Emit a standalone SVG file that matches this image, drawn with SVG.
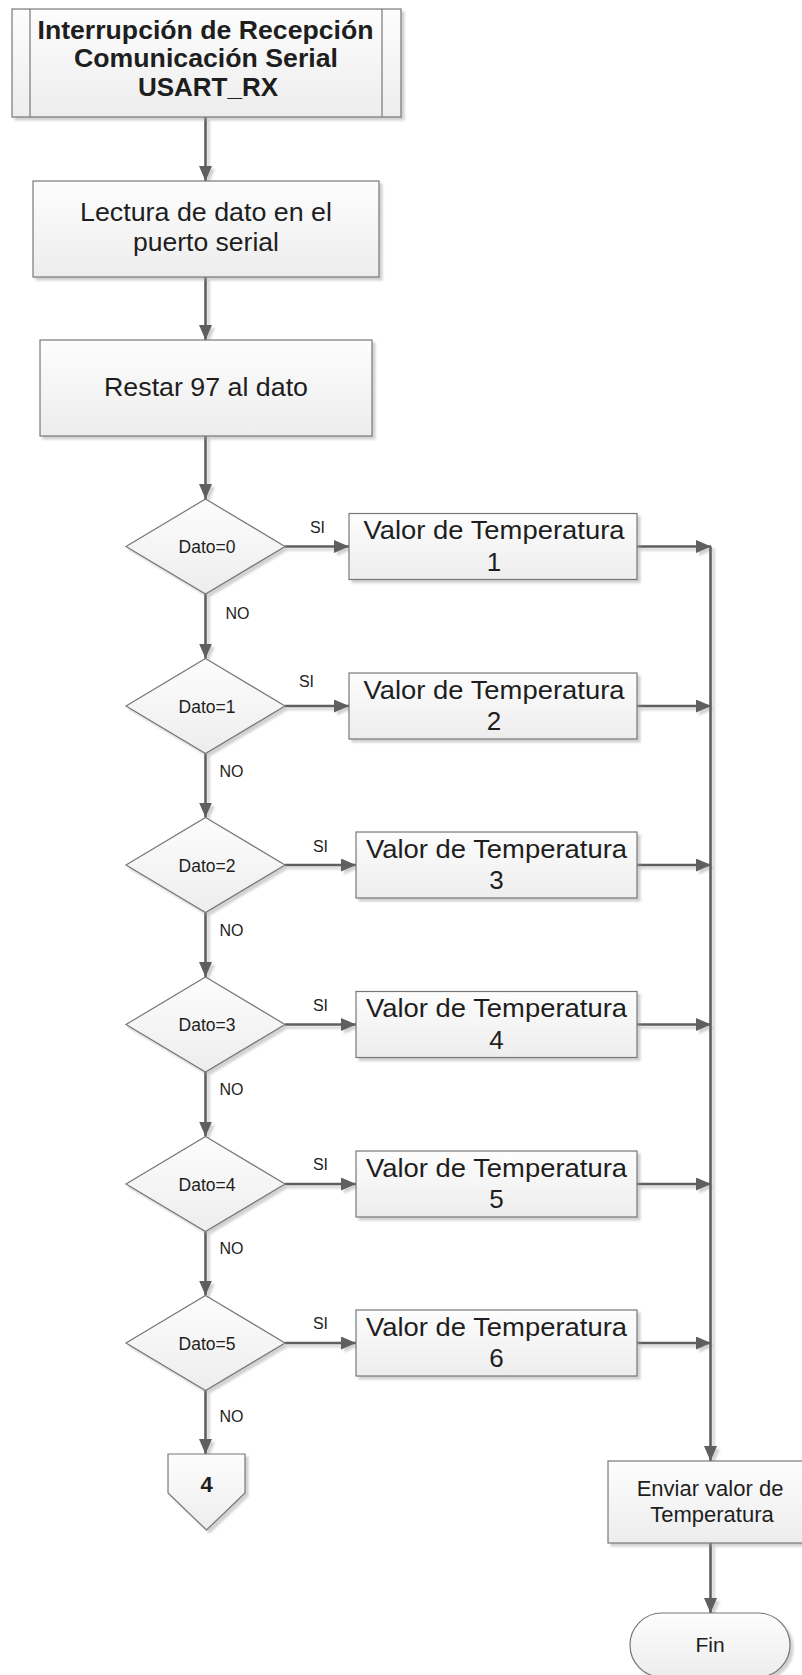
<svg xmlns="http://www.w3.org/2000/svg" width="802" height="1675" viewBox="0 0 802 1675">
  <defs>
    <linearGradient id="boxFill" x1="0" y1="0" x2="0" y2="1">
      <stop offset="0" stop-color="#fdfdfd"/>
      <stop offset="1" stop-color="#ededed"/>
    </linearGradient>
    <filter id="shadow" x="-10%" y="-10%" width="130%" height="130%">
      <feGaussianBlur in="SourceAlpha" stdDeviation="1.2" result="b"/>
      <feOffset in="b" dx="3" dy="3" result="o"/>
      <feFlood flood-color="#9a9a9a" flood-opacity="0.45"/>
      <feComposite in2="o" operator="in" result="s"/>
      <feMerge>
        <feMergeNode in="s"/>
        <feMergeNode in="SourceGraphic"/>
      </feMerge>
    </filter>
    <marker id="arrow" markerUnits="userSpaceOnUse" markerWidth="16" markerHeight="14" refX="15" refY="6.5" orient="auto">
      <path d="M0,0 L15,6.5 L0,13 z" fill="#5e5e5e"/>
    </marker>
  </defs>
  <style>
    .shape { fill: url(#boxFill); stroke: #777777; stroke-width: 1.2; filter: url(#shadow); }
    .inner { stroke: #777777; stroke-width: 1.2; fill: none; }
    .conn { stroke: #5e5e5e; stroke-width: 2.6; fill: none; marker-end: url(#arrow); }
    text { font-family: "Liberation Sans", Arial, sans-serif; fill: #1e1e1e; text-anchor: middle; }
    .title { font-size: 26px; font-weight: bold; }
    .big { font-size: 25px; }
    .val { font-size: 26px; }
    .cond { font-size: 17.5px; }
    .lbl { font-size: 16px; }
    .mid { font-size: 22px; }
    .conn-num { font-size: 22px; font-weight: bold; }
  </style>

  <!-- connectors -->
  <g id="connectors" filter="url(#shadow)">
    <path class="conn" d="M205.5,117 V181"/>
    <path class="conn" d="M205.5,277 V340"/>
    <path class="conn" d="M205.5,436 V499"/>
    <!-- NO branches -->
    <path class="conn" d="M205.5,594 V658.5"/>
    <path class="conn" d="M205.5,753.5 V817.5"/>
    <path class="conn" d="M205.5,912.5 V977"/>
    <path class="conn" d="M205.5,1072 V1136.5"/>
    <path class="conn" d="M205.5,1231.5 V1295.5"/>
    <path class="conn" d="M205.5,1390.5 V1454"/>
    <!-- SI branches -->
    <path class="conn" d="M285,546.5 H349"/>
    <path class="conn" d="M285,706 H349"/>
    <path class="conn" d="M285,865 H356"/>
    <path class="conn" d="M285,1024.5 H356"/>
    <path class="conn" d="M285,1184 H356"/>
    <path class="conn" d="M285,1343 H356"/>
    <!-- values into the collector line -->
    <path class="conn" d="M637,546.5 H711"/>
    <path class="conn" d="M637,706 H711"/>
    <path class="conn" d="M637,865 H711"/>
    <path class="conn" d="M637,1024.5 H711"/>
    <path class="conn" d="M637,1184 H711"/>
    <path class="conn" d="M637,1343 H711"/>
    <path class="conn" d="M710.5,546.5 V1461"/>
    <path class="conn" d="M710.5,1543 V1613"/>
  </g>

  <!-- labels on connectors -->
  <g id="branch-labels">
    <text class="lbl" x="317.5" y="533">SI</text>
    <text class="lbl" x="306.5" y="687">SI</text>
    <text class="lbl" x="320.5" y="852">SI</text>
    <text class="lbl" x="320.5" y="1011">SI</text>
    <text class="lbl" x="320.5" y="1170">SI</text>
    <text class="lbl" x="320.5" y="1329">SI</text>
    <text class="lbl" x="237.5" y="619">NO</text>
    <text class="lbl" x="231.5" y="777">NO</text>
    <text class="lbl" x="231.5" y="936">NO</text>
    <text class="lbl" x="231.5" y="1095">NO</text>
    <text class="lbl" x="231.5" y="1254">NO</text>
    <text class="lbl" x="231.5" y="1422">NO</text>
  </g>

  <!-- start: interrupt routine -->
  <g id="start">
    <rect class="shape" x="12" y="9" width="389" height="108"/>
    <line class="inner" x1="30" y1="9" x2="30" y2="117"/>
    <line class="inner" x1="382" y1="9" x2="382" y2="117"/>
    <text class="title" x="205.5" y="39" textLength="336" lengthAdjust="spacingAndGlyphs">Interrupción de Recepción</text>
    <text class="title" x="206" y="67" textLength="264" lengthAdjust="spacingAndGlyphs">Comunicación Serial</text>
    <text class="title" x="208" y="95.5">USART_RX</text>
  </g>

  <g id="read">
    <rect class="shape" x="33" y="181" width="346" height="96"/>
    <text class="big" x="206" y="221" textLength="252" lengthAdjust="spacingAndGlyphs">Lectura de dato en el</text>
    <text class="big" x="206" y="251" textLength="146" lengthAdjust="spacingAndGlyphs">puerto serial</text>
  </g>

  <g id="subtract">
    <rect class="shape" x="40" y="340" width="332" height="96"/>
    <text class="big" x="206" y="396" textLength="204" lengthAdjust="spacingAndGlyphs">Restar 97 al dato</text>
  </g>

  <!-- decisions -->
  <g id="dec0">
    <polygon class="shape" points="205.5,499 285,546.5 205.5,594 126,546.5"/>
    <text class="cond" x="207" y="553">Dato=0</text>
  </g>
  <g id="dec1">
    <polygon class="shape" points="205.5,658.5 285,706 205.5,753.5 126,706"/>
    <text class="cond" x="207" y="712.5">Dato=1</text>
  </g>
  <g id="dec2">
    <polygon class="shape" points="205.5,817.5 285,865 205.5,912.5 126,865"/>
    <text class="cond" x="207" y="871.5">Dato=2</text>
  </g>
  <g id="dec3">
    <polygon class="shape" points="205.5,977 285,1024.5 205.5,1072 126,1024.5"/>
    <text class="cond" x="207" y="1031">Dato=3</text>
  </g>
  <g id="dec4">
    <polygon class="shape" points="205.5,1136.5 285,1184 205.5,1231.5 126,1184"/>
    <text class="cond" x="207" y="1190.5">Dato=4</text>
  </g>
  <g id="dec5">
    <polygon class="shape" points="205.5,1295.5 285,1343 205.5,1390.5 126,1343"/>
    <text class="cond" x="207" y="1349.5">Dato=5</text>
  </g>

  <!-- temperature values -->
  <g id="val1">
    <rect class="shape" x="349" y="513.5" width="288" height="66"/>
    <text class="val" x="494" y="539" textLength="261" lengthAdjust="spacingAndGlyphs">Valor de Temperatura</text>
    <text class="val" x="494" y="570.5">1</text>
  </g>
  <g id="val2">
    <rect class="shape" x="349" y="673" width="288" height="66"/>
    <text class="val" x="494" y="698.5" textLength="261" lengthAdjust="spacingAndGlyphs">Valor de Temperatura</text>
    <text class="val" x="494" y="730">2</text>
  </g>
  <g id="val3">
    <rect class="shape" x="356" y="832" width="281" height="66"/>
    <text class="val" x="496.5" y="857.5" textLength="261" lengthAdjust="spacingAndGlyphs">Valor de Temperatura</text>
    <text class="val" x="496.5" y="889">3</text>
  </g>
  <g id="val4">
    <rect class="shape" x="356" y="991.5" width="281" height="66"/>
    <text class="val" x="496.5" y="1017" textLength="261" lengthAdjust="spacingAndGlyphs">Valor de Temperatura</text>
    <text class="val" x="496.5" y="1048.5">4</text>
  </g>
  <g id="val5">
    <rect class="shape" x="356" y="1151" width="281" height="66"/>
    <text class="val" x="496.5" y="1176.5" textLength="261" lengthAdjust="spacingAndGlyphs">Valor de Temperatura</text>
    <text class="val" x="496.5" y="1208">5</text>
  </g>
  <g id="val6">
    <rect class="shape" x="356" y="1310" width="281" height="66"/>
    <text class="val" x="496.5" y="1335.5" textLength="261" lengthAdjust="spacingAndGlyphs">Valor de Temperatura</text>
    <text class="val" x="496.5" y="1367">6</text>
  </g>

  <!-- off-page reference -->
  <g id="offpage4">
    <polygon class="shape" points="168,1454 245,1454 245,1493 206.5,1530 168,1493"/>
    <text class="conn-num" x="206.5" y="1492">4</text>
  </g>

  <g id="send">
    <rect class="shape" x="608" y="1461" width="205" height="82"/>
    <text class="mid" x="710" y="1496">Enviar valor de</text>
    <text class="mid" x="712" y="1522">Temperatura</text>
  </g>

  <g id="end">
    <rect class="shape" x="630" y="1613" width="160" height="64" rx="32" ry="32"/>
    <text class="mid" x="710" y="1652" style="font-size:21px">Fin</text>
  </g>
</svg>
